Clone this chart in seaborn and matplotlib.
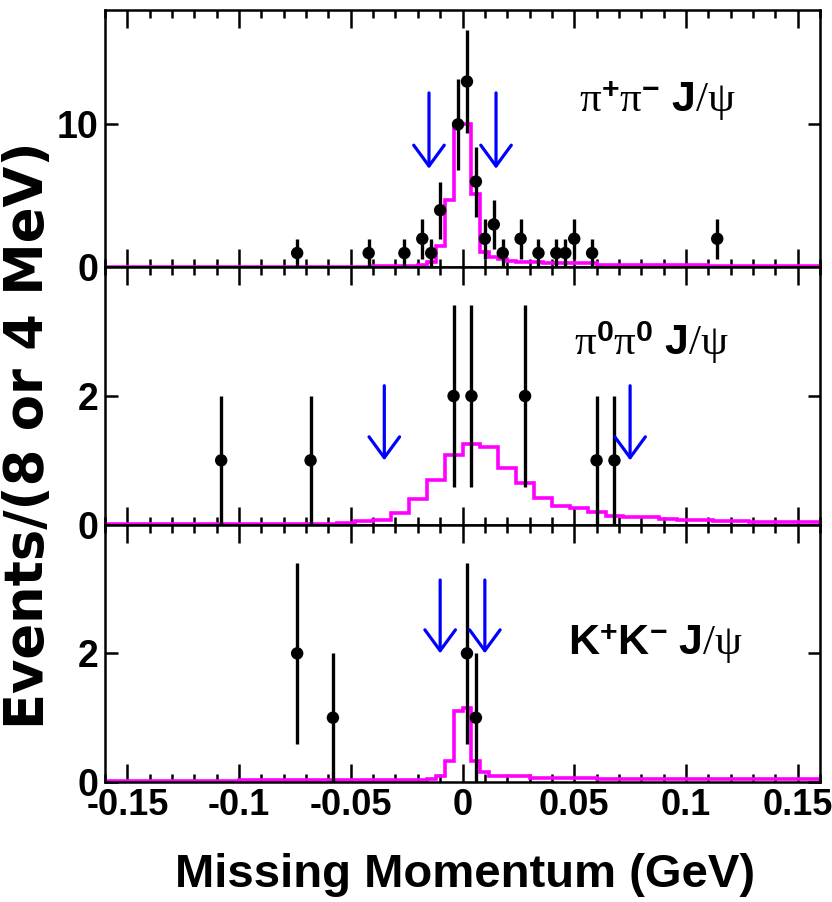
import matplotlib
matplotlib.use('Agg')
import matplotlib.pyplot as plt
import seaborn as sns
import pandas as pd
from matplotlib import font_manager
from matplotlib.ticker import MultipleLocator

# %% data
# pi+ pi- J/psi  (4 MeV bins)
pp_x = [-0.074, -0.042, -0.026, -0.018, -0.014, -0.010, -0.002, 0.002, 0.006, 0.010,
        0.014, 0.018, 0.026, 0.034, 0.042, 0.046, 0.050, 0.058, 0.114]
pp_n = [1, 1, 1, 2, 1, 4, 10, 13, 6, 2, 3, 1, 2, 1, 1, 1, 2, 1, 2]
pp_err = [1.0, 1.0, 1.0, 1.41, 1.0, 2.0, 3.16, 3.61, 2.45, 1.41, 1.73, 1.0, 1.41, 1.0, 1.0, 1.0, 1.41, 1.0, 1.41]
pp_edges = [-0.16, -0.04, -0.02, -0.016, -0.012, -0.008, -0.004, 0.0, 0.004, 0.008, 0.012,
            0.016, 0.020, 0.024, 0.036, 0.060, 0.110, 0.16]
pp_mc = [0.03, 0.07, 0.15, 0.35, 1.5, 4.7, 10.0, 10.0, 5.1, 1.05, 0.75, 0.55, 0.45, 0.4, 0.28, 0.16, 0.1]
pp_cuts = [-0.015, 0.015]

# pi0 pi0 J/psi  (8 MeV bins)
p0_x = [-0.108, -0.068, -0.004, 0.004, 0.028, 0.060, 0.068]
p0_n = [1, 1, 2, 2, 2, 1, 1]
p0_err = [1.0, 1.0, 1.41, 1.41, 1.41, 1.0, 1.0]
p0_edges = [-0.16, -0.056, -0.048, -0.040, -0.032, -0.024, -0.016, -0.008, 0.0, 0.008, 0.016,
            0.024, 0.032, 0.040, 0.048, 0.056, 0.064, 0.072, 0.088, 0.096, 0.112, 0.128, 0.16]
p0_mc = [0.01, 0.03, 0.05, 0.08, 0.18, 0.40, 0.69, 1.09, 1.25, 1.21, 0.88, 0.65, 0.41,
         0.29, 0.26, 0.20, 0.14, 0.12, 0.09, 0.07, 0.06, 0.04]
p0_cuts = [-0.035, 0.075]

# K+ K- J/psi  (4 MeV bins)
kk_x = [-0.074, -0.058, 0.002, 0.006]
kk_n = [2, 1, 2, 1]
kk_err = [1.41, 1.0, 1.41, 1.0]
kk_edges = [-0.16, -0.10, -0.016, -0.012, -0.008, -0.004, 0.0, 0.004, 0.008, 0.012, 0.030, 0.060, 0.16]
kk_mc = [0.01, 0.03, 0.05, 0.09, 0.32, 1.11, 1.15, 0.33, 0.15, 0.09, 0.06, 0.04]
kk_cuts = [-0.010, 0.010]

labels = [r'$\mathrm{\pi}^{\mathbf{+}}\mathrm{\pi}^{\mathbf{-}}\ \mathbf{J}\mathrm{/\psi}$',
          r'$\mathrm{\pi}^{\mathbf{0}}\mathrm{\pi}^{\mathbf{0}}\ \mathbf{J}\mathrm{/\psi}$',
          r'$\mathbf{K}^{\mathbf{+}}\mathbf{K}^{\mathbf{-}}\ \mathbf{J}\mathrm{/\psi}$']
xticks = [-0.15, -0.1, -0.05, 0, 0.05, 0.1, 0.15]
xtick_labels = ['-0.15', '-0.1', '-0.05', '0', '0.05', '0.1', '0.15']

# %% style
sns.set_theme(style='ticks')
names = {f.name for f in font_manager.fontManager.ttflist}
narrow = 'Liberation Sans Narrow' in names
tick_font = 'Liberation Sans Narrow' if narrow else 'Liberation Sans'
plt.rcParams['font.family'] = ['Liberation Sans', 'DejaVu Sans']
plt.rcParams['text.color'] = 'black'
plt.rcParams['axes.labelcolor'] = 'black'
plt.rcParams['xtick.color'] = 'black'
plt.rcParams['ytick.color'] = 'black'
plt.rcParams['axes.edgecolor'] = 'black'
plt.rcParams['mathtext.fontset'] = 'custom'
plt.rcParams['mathtext.rm'] = 'Liberation Serif'
plt.rcParams['mathtext.it'] = 'Liberation Serif'
plt.rcParams['mathtext.bf'] = 'Liberation Sans:bold'

panels = [
    dict(x=pp_x, n=pp_n, err=pp_err, edges=pp_edges, mc=pp_mc, cuts=pp_cuts, ytop=18,
         yt=[0, 10], arrow=(12.2, 6.9), lab=labels[0], lab_pos=(0.052, 10.9), bottom=0.7036),
    dict(x=p0_x, n=p0_n, err=p0_err, edges=p0_edges, mc=p0_mc, cuts=p0_cuts, ytop=4,
         yt=[0, 2], arrow=(2.16, 1.0), lab=labels[1], lab_pos=(0.050, 2.64), bottom=0.4183),
    dict(x=kk_x, n=kk_n, err=kk_err, edges=kk_edges, mc=kk_mc, cuts=kk_cuts, ytop=4,
         yt=[0, 2], arrow=(3.14, 2.0), lab=labels[2], lab_pos=(0.047, 1.97), bottom=0.1330),
]

fig = plt.figure(figsize=(8.32, 9.02), dpi=100)

for i, p in enumerate(panels):
    ax = fig.add_axes([0.1262, p['bottom'], 0.8594, 0.2853])
    df = pd.DataFrame({'x': p['x'], 'n': p['n']})

    # MC shape
    ax.stairs(p['mc'], p['edges'], color='#ff00ff', lw=2.6, zorder=2)

    # data points
    ax.errorbar(p['x'], p['n'], yerr=p['err'], fmt='none', ecolor='black', elinewidth=2.4,
                capsize=0, zorder=3)
    sns.scatterplot(data=df, x='x', y='n', ax=ax, color='black', s=80, edgecolor='none',
                    zorder=4, legend=False)

    # cut arrows
    for c in p['cuts']:
        ax.annotate('', xy=(c, p['arrow'][1]), xytext=(c, p['arrow'][0]),
                    arrowprops=dict(arrowstyle='->, head_length=0.75, head_width=0.55',
                                    color='#0000ff', lw=2.3, mutation_scale=20,
                                    shrinkA=0, shrinkB=0), zorder=5)

    ax.text(p['lab_pos'][0], p['lab_pos'][1], p['lab'], fontsize=31, ha='left', va='baseline')

    ax.set_xlim(-0.16, 0.16)
    ax.set_ylim(0, p['ytop'])
    ax.set_xlabel('')
    ax.set_ylabel('')
    ax.xaxis.set_major_locator(MultipleLocator(0.05))
    ax.xaxis.set_minor_locator(MultipleLocator(0.01))
    ax.set_yticks(p['yt'])
    ax.set_yticklabels([str(v) for v in p['yt']], fontsize=27, fontweight='bold')
    ax.tick_params(axis='x', which='both', direction='in', top=True, bottom=True, width=1.8)
    ax.tick_params(axis='x', which='major', length=13)
    ax.tick_params(axis='x', which='minor', length=6)
    ax.tick_params(axis='y', which='major', direction='in', left=True, right=True,
                   length=9, width=1.8, pad=5)
    for s in ax.spines.values():
        s.set_linewidth(1.8)
        s.set_color('black')
    if i < 2:
        ax.set_xticklabels([])
    else:
        ax.set_xticks(xticks)
        ax.set_xticklabels(xtick_labels, fontsize=31 if narrow else 26,
                           fontweight='bold', family=tick_font)
        ax.tick_params(axis='x', which='major', pad=4)

fig.text(0.559, 0.0166, 'Missing Momentum (GeV)', fontsize=40 if narrow else 34,
         fontweight='bold', family=tick_font, ha='center', va='baseline')
fig.text(0.034, 0.5177, 'Events/(8 or 4 MeV)', fontsize=38, fontweight='bold',
         family=['DejaVu Sans'], rotation=90, ha='center', va='center')

fig.savefig('out.png', dpi=100)
